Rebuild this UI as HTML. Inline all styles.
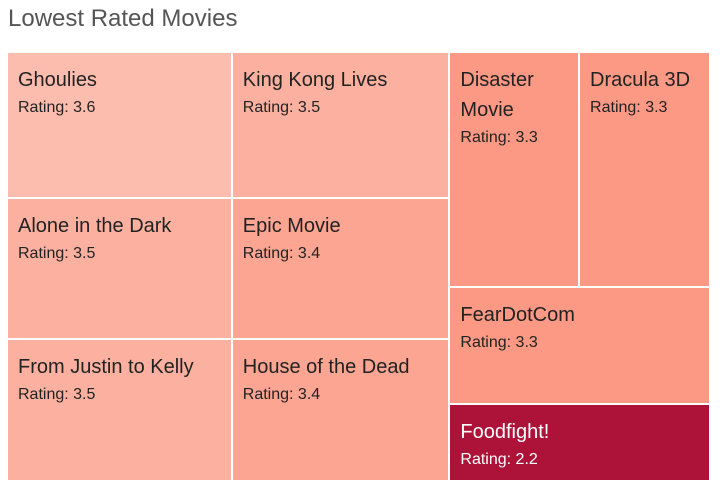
<!DOCTYPE html>
<html><head><meta charset="utf-8"><style>
body{margin:0;width:726px;height:498px;background:#fff;font-family:"Liberation Sans Narrow","Liberation Sans",sans-serif;overflow:hidden;position:relative}
#title{position:absolute;left:8px;top:5px;font-size:24px;color:#555}
.cell{position:absolute;box-sizing:border-box;overflow:hidden}
.nm{position:absolute;left:10px;top:12px;font-size:20px;line-height:30px;color:#222}
.rt{font-size:16px;line-height:26px}
</style></head><body>
<div id="title">Lowest Rated Movies</div>
<div id="tm"></div>
<script>
const movies=["Ghoulies","Alone in the Dark","From Justin to Kelly","King Kong Lives","Epic Movie","House of the Dead","Disaster Movie","Dracula 3D","FearDotCom","Foodfight!"];
const ratings=[3.6,3.5,3.5,3.5,3.4,3.4,3.3,3.3,3.3,2.2];
const sizes=[32000,31000,31200,31000,30000,30200,29700,30000,29800,19700];
// columns -> rows -> items within a row
const layout=[[[0],[1],[2]],[[3],[4],[5]],[[6,7],[8],[9]]];
const X0=8,Y0=53,W=703,H=429,GAP=2;
function colorFor(r){
  const lo=2.2,hi=3.6;const t=(r-lo)/(hi-lo);
  let a,b,u;
  if(t>0.78){a=[251,152,131];b=[253,189,174];u=(t-0.78)/0.22;}
  else{a=[173,19,57];b=[251,152,131];u=t/0.78;}
  return `rgb(${a.map((v,i)=>Math.round(v+(b[i]-v)*u)).join(',')})`;
}
const sum=a=>a.reduce((s,v)=>s+v,0);
const tot=sum(layout.flat(2).map(i=>sizes[i]));
const tm=document.getElementById('tm');
let x=X0;
layout.forEach(col=>{
  const cs=sum(col.flat().map(i=>sizes[i]));
  const cw=W*cs/tot;let y=Y0;
  col.forEach(row=>{
    const rs=sum(row.map(i=>sizes[i]));
    const rh=H*rs/cs;let xx=x;
    row.forEach(i=>{
      const w=cw*sizes[i]/rs;
      const d=document.createElement('div');
      d.className='cell';
      
      
      d.style.left=xx+'px';d.style.top=y+'px';
      d.style.width=(w-GAP)+'px';d.style.height=(rh-GAP)+'px';
      d.style.background=colorFor(ratings[i]);
      const n=document.createElement('div');n.className='nm';
      n.style.width=(w-20)+'px';
      n.style.color=ratings[i]<3?'#fff':'#222';
      n.innerHTML=movies[i]+'<div class="rt">Rating: '+ratings[i].toFixed(1)+'</div>';
      
      
      d.appendChild(n);tm.appendChild(d);
      xx+=w;
    });
    y+=rh;
  });
  x+=cw;
});
</script>
</body></html>
